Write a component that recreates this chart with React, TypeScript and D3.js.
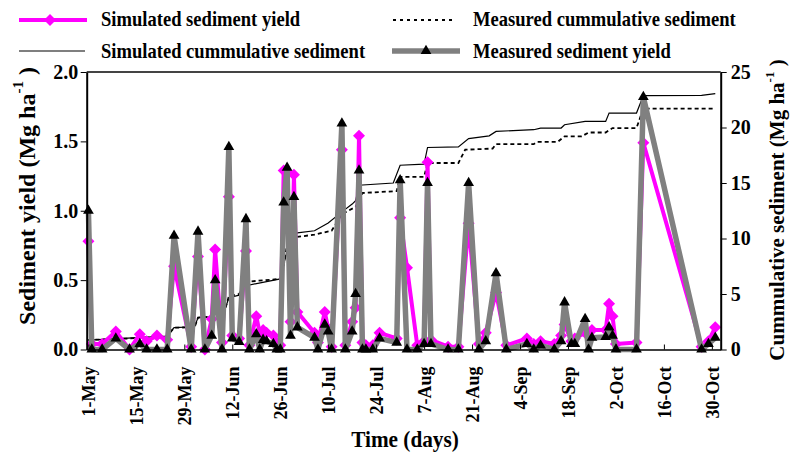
import { useRef, useEffect } from 'react';
import * as d3 from 'd3';

// event dates (month-day) with simulated / measured sediment yield, Mg ha-1
const eventDates = [
    '05-01', '05-02', '05-05', '05-09', '05-13', '05-16', '05-18', '05-21', '05-24', '05-26',
    '05-31', '06-02', '06-04', '06-06', '06-07', '06-09', '06-11', '06-12', '06-14', '06-16',
    '06-17', '06-19', '06-20', '06-21', '06-22', '06-24', '06-25', '06-26', '06-27', '06-28',
    '06-29', '06-30', '07-01', '07-06', '07-07', '07-09', '07-10', '07-11', '07-14', '07-15',
    '07-17', '07-18', '07-19', '07-20', '07-21', '07-23', '07-25', '07-30', '07-31', '08-02',
    '08-05', '08-07', '08-08', '08-09', '08-14', '08-17', '08-20', '08-23', '08-25', '08-28',
    '08-31', '09-06', '09-08', '09-10', '09-14', '09-16', '09-17', '09-19', '09-20', '09-23',
    '09-24', '09-25', '09-29', '09-30', '10-01', '10-02', '10-08', '10-10', '10-27', '10-29', '10-31',
];
const measuredYield = [
    1.0, 0, 0, 0.08, 0, 0.04, 0, 0, 0, 0.82,
    0, 0.85, 0, 0.1, 0.5, 0, 1.46, 0.08, 0.055, 0.94,
    0, 0.11, 0, 0.07, 0.06, 0.04, 0, 0, 1.06, 1.31,
    0.1, 1.1, 0.16, 0.085, 0, 0.18, 0.13, 0, 1.63, 0,
    0.13, 0.4, 1.29, 0, 0, 0, 0.08, 0.05, 1.22, 0,
    0, 0.04, 1.2, 0.04, 0, 0, 1.2, 0, 0.06, 0.55,
    0, 0.04, 0, 0.03, 0, 0.06, 0.34, 0.04, 0.04, 0.22,
    0, 0.085, 0.09, 0.16, 0.1, 0, 0, 1.82, 0, 0.04, 0.085,
];
const simulatedYield = [
    0.78, 0.04, 0.04, 0.13, 0, 0.11, 0.06, 0.1, 0.07, 0.6,
    0.02, 0.67, 0, 0.22, 0.72, 0.05, 1.1, 0.1, 0.08, 0.71,
    0.03, 0.24, 0.12, 0.14, 0.12, 0.1, 0.05, 0.03, 1.29, 1.28,
    0.2, 1.26, 0.27, 0.12, 0.05, 0.27, 0.15, 0.02, 1.44, 0.03,
    0.2, 0.3, 1.54, 0.05, 0.03, 0.03, 0.12, 0.08, 0.95, 0.59,
    0.03, 0.06, 1.35, 0.07, 0.02, 0.02, 0.91, 0.04, 0.12, 0.41,
    0.03, 0.08, 0.04, 0.06, 0.04, 0.1, 0.18, 0.06, 0.08, 0.12,
    0.1, 0.14, 0.14, 0.33, 0.24, 0.04, 0.05, 1.49, 0.02, 0.06, 0.16,
];

// cumulative sediment, Mg ha-1 (right axis)
const simCumDates = [
    '05-01', '05-24', '05-26', '06-01', '06-02', '06-06', '06-07', '06-10', '06-11', '06-14',
    '06-16', '06-26', '06-27', '06-28', '06-30', '07-01', '07-06', '07-10', '07-14', '07-17',
    '07-18', '07-19', '07-29', '07-31', '08-07', '08-08', '08-17', '08-20', '08-26', '08-28',
    '09-08', '09-10', '09-16', '09-17', '09-23', '09-29', '09-30', '10-08', '10-10', '10-27', '10-31',
];
const simCumulative = [
    0.85, 1.2, 1.97, 2.05, 2.88, 2.95, 3.64, 3.75, 4.66, 4.9,
    5.75, 6.36, 7.6, 8.9, 10.3, 10.5, 10.7, 11.4, 12.4, 13.1,
    13.4, 14.8, 15.0, 16.6, 16.7, 18.2, 18.25, 19.0, 19.25, 19.65,
    19.8, 19.95, 19.95, 20.25, 20.55, 20.55, 21.3, 21.3, 22.87, 22.9, 23.05,
];
const measCumDates = [
    '05-01', '05-12', '05-24', '05-26', '06-01', '06-02', '06-06', '06-07', '06-10', '06-11',
    '06-14', '06-16', '06-26', '06-27', '06-28', '06-30', '07-06', '07-11', '07-14', '07-18',
    '07-20', '07-30', '07-31', '08-07', '08-08', '08-17', '08-19', '08-27', '08-28', '09-08',
    '09-09', '09-15', '09-17', '09-22', '09-24', '09-29', '10-01', '10-08', '10-10', '10-31',
];
const measCumulative = [
    0.86, 0.98, 1.2, 1.97, 2.0, 2.88, 2.95, 3.64, 3.7, 4.8,
    5.0, 6.1, 6.36, 7.5, 9.5, 10.1, 10.35, 10.7, 12.2, 12.85,
    14.1, 14.27, 15.56, 15.56, 16.8, 16.8, 18.0, 18.1, 18.5, 18.5,
    18.7, 18.7, 19.2, 19.2, 19.55, 19.55, 19.95, 19.95, 21.7, 21.7,
];

const tickDates = ['05-01', '05-15', '05-29', '06-12', '06-26', '07-10', '07-24', '08-07', '08-21', '09-04', '09-18', '10-02', '10-16', '10-30'];
const tickLabels = ['1-May', '15-May', '29-May', '12-Jun', '26-Jun', '10-Jul', '24-Jul', '7-Aug', '21-Aug', '4-Sep', '18-Sep', '2-Oct', '16-Oct', '30-Oct'];
const leftTicks = [0, 0.5, 1, 1.5, 2];
const rightTicks = [0, 5, 10, 15, 20, 25];

const parseDay = d3.timeParse('%m-%d');

export default function App() {
    const ref = useRef<SVGSVGElement>(null);

    useEffect(() => {
        if (!ref.current) return;
        const svg = d3.select(ref.current);
        svg.selectAll('*').remove();
        const font = '"Liberation Serif", "Times New Roman", serif';
        const left = 86.7, right = 720.7, top = 72, bottom = 349.5;
        const squeeze = 0.885; // horizontal text in the source looks narrowed

        const x = d3
            .scaleTime()
            .domain([new Date(1900, 3, 30, 12), new Date(1900, 10, 1, 14)])
            .range([left, right]);
        const yL = d3.scaleLinear().domain([0, 2]).range([bottom, top]);
        const yR = d3.scaleLinear().domain([0, 25]).range([bottom, top]);

        const events = eventDates.map((d, i) => ({ date: parseDay(d) as Date, sim: simulatedYield[i], meas: measuredYield[i] }));
        const simCum = simCumDates.map((d, i) => ({ date: parseDay(d) as Date, v: simCumulative[i] }));
        const measCum = measCumDates.map((d, i) => ({ date: parseDay(d) as Date, v: measCumulative[i] }));

        // top frame line
        svg.append('line')
            .attr('x1', left).attr('x2', right).attr('y1', top).attr('y2', top)
            .attr('stroke', '#444').attr('stroke-width', 2);

        // cumulative lines
        const cumLine = d3.line<{ date: Date; v: number }>().x((d) => x(d.date)).y((d) => yR(d.v));
        svg.append('path').attr('d', cumLine(measCum)).attr('fill', 'none')
            .attr('stroke', '#000').attr('stroke-width', 1.8).attr('stroke-dasharray', '4,3');
        svg.append('path').attr('d', cumLine(simCum)).attr('fill', 'none')
            .attr('stroke', '#000').attr('stroke-width', 1.2);

        // simulated yield
        const simLine = d3.line<typeof events[0]>().x((d) => x(d.date)).y((d) => yL(d.sim));
        svg.append('path').attr('d', simLine(events)).attr('fill', 'none')
            .attr('stroke', '#ff00ff').attr('stroke-width', 4).attr('stroke-linejoin', 'round');
        const diamond = d3.symbol(d3.symbolSquare, 72)();
        svg.append('g').selectAll('path').data(events).join('path')
            .attr('d', diamond)
            .attr('transform', (d) => `translate(${x(d.date)},${yL(d.sim)}) rotate(45)`)
            .attr('fill', '#ff00ff');

        // measured yield
        const measLine = d3.line<typeof events[0]>().x((d) => x(d.date)).y((d) => yL(d.meas));
        svg.append('path').attr('d', measLine(events)).attr('fill', 'none')
            .attr('stroke', '#808080').attr('stroke-width', 5.5).attr('stroke-linejoin', 'round');
        const tri = d3.symbol(d3.symbolTriangle, 50)();
        svg.append('g').selectAll('path').data(events).join('path')
            .attr('d', tri)
            .attr('transform', (d) => `translate(${x(d.date)},${yL(d.meas)})`)
            .attr('fill', '#000');

        // axes
        const xAxis = svg.append('g').attr('transform', `translate(0,${bottom})`)
            .call(
                d3.axisBottom(x)
                    .tickValues(tickDates.map((d) => parseDay(d) as Date))
                    .tickSize(-5).tickSizeOuter(0)
                    .tickFormat((_, i) => tickLabels[i]),
            );
        xAxis.select('.domain').attr('stroke-width', 1.5);
        xAxis.selectAll('text')
            .attr('transform', 'rotate(-90)')
            .attr('text-anchor', 'end')
            .attr('x', -17).attr('y', 0).attr('dy', '0.35em')
            .attr('font-size', 18).attr('font-weight', 'bold').attr('font-family', font).attr('fill', '#000');

        const yAxisL = svg.append('g').attr('transform', `translate(${left},0)`)
            .call(d3.axisLeft(yL).tickValues(leftTicks).tickSize(6).tickSizeOuter(0).tickPadding(2.5).tickFormat(d3.format('.1f')));
        yAxisL.select('.domain').attr('stroke-width', 2);
        yAxisL.selectAll('text').attr('font-size', 20).attr('font-weight', 'bold').attr('font-family', font).attr('fill', '#000');

        const yAxisR = svg.append('g').attr('transform', `translate(${right},0)`)
            .call(d3.axisRight(yR).tickValues(rightTicks).tickSize(6).tickSizeOuter(0).tickPadding(4));
        yAxisR.select('.domain').attr('stroke-width', 2);
        yAxisR.selectAll('text').attr('font-size', 20).attr('font-weight', 'bold').attr('font-family', font).attr('fill', '#000');

        // axis titles
        const titleL = svg.append('text')
            .attr('transform', 'translate(27,196) rotate(-90)')
            .attr('text-anchor', 'middle').attr('dominant-baseline', 'central')
            .attr('font-size', 24).attr('font-weight', 'bold').attr('font-family', font);
        titleL.append('tspan').text('Sediment yield (Mg ha');
        titleL.append('tspan').attr('dy', -9).attr('font-size', 15).text('-1');
        titleL.append('tspan').attr('dy', 9).text(' )');

        const titleR = svg.append('text')
            .attr('transform', 'translate(777,210) rotate(-90)')
            .attr('text-anchor', 'middle').attr('dominant-baseline', 'central')
            .attr('font-size', 21).attr('font-weight', 'bold').attr('font-family', font);
        titleR.append('tspan').text('Cummulative sediment (Mg ha');
        titleR.append('tspan').attr('dy', -8).attr('font-size', 13).text('-1');
        titleR.append('tspan').attr('dy', 8).text(' )');

        svg.append('text').attr('transform', `translate(405,447) scale(${squeeze},1)`).attr('text-anchor', 'middle')
            .attr('font-size', 24).attr('font-weight', 'bold').attr('font-family', font)
            .text('Time (days)');

        // legend
        const lg = svg.append('g').attr('font-family', font).attr('font-size', 21).attr('font-weight', 'bold');
        const legendText = (lx: number, ly: number, label: string) =>
            lg.append('text').attr('transform', `translate(${lx},${ly}) scale(${squeeze},1)`).text(label);

        lg.append('line').attr('x1', 19).attr('x2', 87).attr('y1', 20).attr('y2', 20)
            .attr('stroke', '#ff00ff').attr('stroke-width', 4);
        lg.append('path').attr('d', diamond).attr('transform', 'translate(50,20) rotate(45)').attr('fill', '#ff00ff');
        legendText(101, 25.7, 'Simulated sediment yield');

        lg.append('line').attr('x1', 19).attr('x2', 85).attr('y1', 51).attr('y2', 51)
            .attr('stroke', '#000').attr('stroke-width', 1.2);
        legendText(101, 58.3, 'Simulated cummulative sediment');

        lg.append('line').attr('x1', 393).attr('x2', 456).attr('y1', 20).attr('y2', 20)
            .attr('stroke', '#000').attr('stroke-width', 2).attr('stroke-dasharray', '3,4');
        legendText(473, 25.7, 'Measured cummulative sediment');

        lg.append('line').attr('x1', 392).attr('x2', 460).attr('y1', 51).attr('y2', 51)
            .attr('stroke', '#808080').attr('stroke-width', 5.5);
        lg.append('path').attr('d', tri).attr('transform', 'translate(426,51)').attr('fill', '#000');
        legendText(473, 58.3, 'Measured sediment yield');
    }, []);

    return (
        <svg
            ref={ref}
            width={790}
            height={454}
            style={{ position: 'absolute', left: 0, top: 0, background: '#fff' }}
        />
    );
}
